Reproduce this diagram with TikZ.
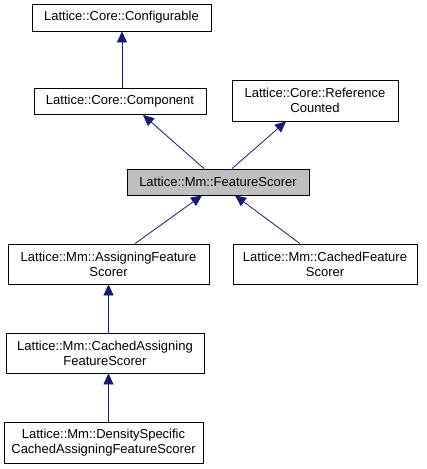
\documentclass[tikz,border=0pt]{standalone}
\usepackage{fontspec}
\setmainfont{Liberation Sans}
\usetikzlibrary{arrows.meta}
\definecolor{edgeblue}{HTML}{191970}
\definecolor{selgray}{HTML}{BFBFBF}

\tikzset{
  cls/.style={draw=black, fill=white, line width=0.8pt, inner sep=0pt, align=center,
    font=\fontsize{13}{15}\selectfont},
  inherit/.style={draw=edgeblue, line width=0.8pt, -{Triangle[length=11pt,width=10pt]}},
}

\begin{document}
\begin{tikzpicture}[x=1pt,y=-1pt]
    \useasboundingbox (0,0) rectangle (427,469);

    % base classes
    \node[cls, minimum width=179pt, minimum height=27pt] (conf) at (121.5,17.5) {Lattice::Core::Configurable};
    \node[cls, minimum width=172pt, minimum height=26pt] (comp) at (120,101.5) {Lattice::Core::Component};
    \node[cls, minimum width=166pt, minimum height=41pt] (refc) at (315,100.5) {Lattice::Core::Reference\\Counted};

    % the documented class
    \node[cls, fill=selgray, minimum width=182pt, minimum height=26pt] (fs) at (218,182) {Lattice::Mm::FeatureScorer};

    % derived classes
    \node[cls, minimum width=201pt, minimum height=40pt] (assign) at (108.5,264) {Lattice::Mm::AssigningFeature\\Scorer};
    \node[cls, minimum width=184pt, minimum height=40pt] (cachedfs) at (325,264) {Lattice::Mm::CachedFeature\\Scorer};
    \node[cls, minimum width=198pt, minimum height=40pt] (cassign) at (105,353) {Lattice::Mm::CachedAssigning\\FeatureScorer};
    \node[cls, minimum width=199pt, minimum height=41pt] (dens) at (103.5,442.5) {Lattice::Mm::DensitySpecific\\CachedAssigningFeatureScorer};

    \draw[inherit] ([xshift=2pt]comp.north) -- ([xshift=2pt]comp.north |- conf.south);
    \draw[inherit] ([xshift=-14pt]fs.north) -- ([xshift=23pt]comp.south);
    \draw[inherit] ([xshift=14pt]fs.north) -- ([xshift=-29pt]refc.south);
    \draw[inherit] ([xshift=26.5pt]assign.north) -- ([xshift=-16pt]fs.south);
    \draw[inherit] ([xshift=-25pt]cachedfs.north) -- ([xshift=17pt]fs.south);
    \draw[inherit] (cassign.north -| assign) -- (assign.south);
    \draw[inherit] (dens.north -| assign) -- (cassign.south -| assign);
\end{tikzpicture}
\end{document}
